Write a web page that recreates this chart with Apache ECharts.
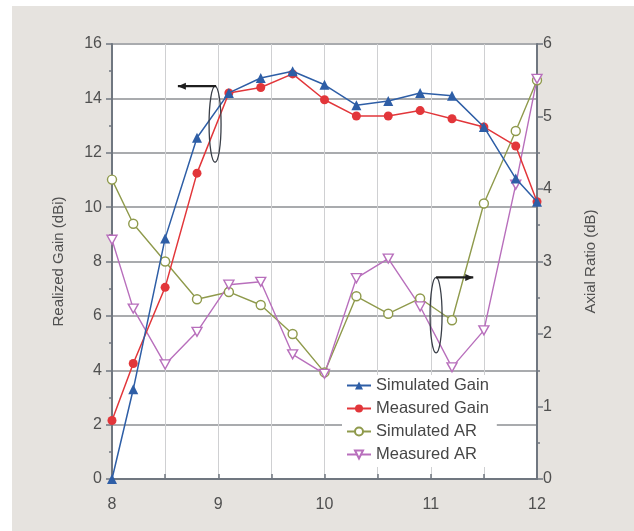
<!DOCTYPE html>
<html>
<head>
<meta charset="utf-8">
<script src="https://cdn.jsdelivr.net/npm/echarts@6/dist/echarts.min.js"></script>
<style>
  html, body { margin: 0; padding: 0; background: #ffffff; }
  #chart { width: 634px; height: 531px; }
</style>
</head>
<body>
<div id="chart"></div>
<script>
// Frequency (GHz)
const freq = [8, 8.2, 8.5, 8.8, 9.1, 9.4, 9.7, 10, 10.3, 10.6, 10.9, 11.2, 11.5, 11.8, 12];

// Realized gain (dBi), left axis
const simGain  = [0.0, 3.3, 8.85, 12.55, 14.2, 14.75, 15.0, 14.5, 13.75, 13.9, 14.2, 14.1, 12.95, 11.05, 10.2];
const measGain = [2.15, 4.25, 7.05, 11.25, 14.2, 14.4, 14.9, 13.95, 13.35, 13.35, 13.55, 13.25, 12.95, 12.25, 10.2];

// Axial ratio (dB), right axis
const simAR  = [4.13, 3.52, 3.0, 2.48, 2.58, 2.4, 2.0, 1.47, 2.52, 2.28, 2.49, 2.19, 3.8, 4.8, 5.5];
const measAR = [3.3, 2.35, 1.58, 2.03, 2.68, 2.72, 1.72, 1.45, 2.77, 3.04, 2.38, 1.54, 2.05, 4.06, 5.52];

// Axis ticks
const xTicks = { min: 8, max: 12, step: 0.5 };
const gainTicks = { min: 0, max: 16, step: 2 };
const arTicks = { min: 0, max: 6, step: 1 };

// Callouts: [x, y] on the gain axis and on the AR axis
const gainCallout = { ellipseTop: [8.97, 14.45], ellipseBottom: [8.97, 11.65], arrowFrom: [8.98, 14.45], arrowTo: [8.62, 14.45] };
const arCallout   = { ellipseTop: [11.05, 2.78], ellipseBottom: [11.05, 1.74], arrowFrom: [11.05, 2.78], arrowTo: [11.4, 2.78] };

const pairs = (xs, ys) => xs.map((x, i) => [x, ys[i]]);

const textColor = '#505050';
const font = 'Liberation Sans, Arial, sans-serif';
const blue = '#2e5ea6', red = '#e2363a', olive = '#8f9a4c', purple = '#b86fbc';

const chart = echarts.init(document.getElementById('chart'), null, { renderer: 'canvas' });

const option = {
  backgroundColor: '#ffffff',
  animation: false,
  grid: {
    left: 112, right: 97, top: 44, bottom: 52,
    show: true, backgroundColor: '#ffffff', borderWidth: 0
  },
  xAxis: {
    type: 'value',
    min: xTicks.min, max: xTicks.max, interval: xTicks.step,
    axisLine: { lineStyle: { color: '#707780', width: 2 } },
    axisTick: { inside: true, length: 5, lineStyle: { color: '#707780', width: 1.5 } },
    axisLabel: {
      margin: 18, color: textColor, fontSize: 16, fontFamily: font,
      formatter: v => (Math.abs(v - Math.round(v)) < 1e-6 ? String(Math.round(v)) : '')
    },
    splitLine: { show: true, lineStyle: { color: '#cfd0d2', width: 1 } }
  },
  yAxis: [
    {
      type: 'value', position: 'left',
      min: gainTicks.min, max: gainTicks.max, interval: gainTicks.step,
      name: 'Realized Gain (dBi)', nameLocation: 'middle', nameGap: 46,
      nameTextStyle: { color: textColor, fontSize: 15, fontFamily: font },
      axisLine: { show: true, lineStyle: { color: '#707780', width: 2 } },
      axisTick: { show: true, length: 6, lineStyle: { color: '#707780', width: 1.5 } },
      minorTick: { show: true, splitNumber: 2, length: 3, lineStyle: { color: '#707780', width: 1.5 } },
      axisLabel: { margin: 10, color: textColor, fontSize: 16, fontFamily: font },
      splitLine: { show: true, lineStyle: { color: '#a9abae', width: 2 } }
    },
    {
      type: 'value', position: 'right',
      min: arTicks.min, max: arTicks.max, interval: arTicks.step,
      name: 'Axial Ratio (dB)', nameLocation: 'middle', nameGap: 46,
      nameRotate: 90,
      nameTextStyle: { color: textColor, fontSize: 15, fontFamily: font },
      axisLine: { show: true, lineStyle: { color: '#707780', width: 2 } },
      axisTick: { show: true, length: 6, lineStyle: { color: '#707780', width: 1.5 } },
      minorTick: { show: true, splitNumber: 2, length: 3, lineStyle: { color: '#707780', width: 1.5 } },
      axisLabel: { margin: 6, color: textColor, fontSize: 16, fontFamily: font },
      splitLine: { show: false }
    }
  ],
  legend: {
    orient: 'vertical',
    left: 342, top: 375,
    itemWidth: 24, itemHeight: 10, itemGap: 6,
    backgroundColor: '#ffffff',
    padding: [2, 8, 4, 4],
    textStyle: { color: '#464646', fontSize: 16.5, fontFamily: font },
    data: ['Simulated Gain', 'Measured Gain', 'Simulated AR', 'Measured AR']
  },
  series: [
    {
      name: 'Simulated Gain', type: 'line', yAxisIndex: 0,
      data: pairs(freq, simGain),
      lineStyle: { width: 1.5, color: blue },
      symbol: 'triangle', symbolSize: 10,
      itemStyle: { color: blue }, z: 4
    },
    {
      name: 'Measured Gain', type: 'line', yAxisIndex: 0,
      data: pairs(freq, measGain),
      lineStyle: { width: 1.5, color: red },
      symbol: 'circle', symbolSize: 9,
      itemStyle: { color: red }, z: 3
    },
    {
      name: 'Simulated AR', type: 'line', yAxisIndex: 1,
      data: pairs(freq, simAR),
      lineStyle: { width: 1.4, color: olive },
      symbol: 'circle', symbolSize: 9,
      itemStyle: { color: '#ffffff', borderColor: olive, borderWidth: 1.4 }, z: 2
    },
    {
      name: 'Measured AR', type: 'line', yAxisIndex: 1,
      data: pairs(freq, measAR),
      lineStyle: { width: 1.4, color: purple },
      symbol: 'path://M0,0 L10,0 L5,9 Z', symbolSize: [10, 9],
      itemStyle: { color: '#ffffff', borderColor: purple, borderWidth: 1.4 }, z: 2
    }
  ]
};

chart.setOption(option);

// Framed backdrop and callouts, placed through the axes' own scales
function callout(c, axisIndex, headDir) {
  const top = chart.convertToPixel({ xAxisIndex: 0, yAxisIndex: axisIndex }, c.ellipseTop);
  const bot = chart.convertToPixel({ xAxisIndex: 0, yAxisIndex: axisIndex }, c.ellipseBottom);
  const from = chart.convertToPixel({ xAxisIndex: 0, yAxisIndex: axisIndex }, c.arrowFrom);
  const to = chart.convertToPixel({ xAxisIndex: 0, yAxisIndex: axisIndex }, c.arrowTo);
  const cx = (top[0] + bot[0]) / 2, cy = (top[1] + bot[1]) / 2;
  const ry = Math.abs(bot[1] - top[1]) / 2;
  const head = headDir < 0
    ? [[to[0], to[1]], [to[0] + 8, to[1] - 3.5], [to[0] + 8, to[1] + 3.5]]
    : [[to[0], to[1]], [to[0] - 8, to[1] - 3.5], [to[0] - 8, to[1] + 3.5]];
  return [
    { type: 'ellipse', shape: { cx: cx, cy: cy, rx: 6, ry: ry },
      style: { fill: null, stroke: '#3a3f48', lineWidth: 1.3 }, z: 20 },
    { type: 'line', shape: { x1: from[0], y1: from[1], x2: to[0], y2: to[1] },
      style: { stroke: '#1e1e1e', lineWidth: 2.2 }, z: 20 },
    { type: 'polygon', shape: { points: head }, style: { fill: '#1e1e1e' }, z: 20 }
  ];
}

chart.setOption({
  graphic: [
    { type: 'rect', shape: { x: 12, y: 6, width: 622, height: 525 },
      style: { fill: '#e6e3df' }, z: -10, silent: true }
  ].concat(callout(gainCallout, 0, -1), callout(arCallout, 1, 1))
});
</script>
</body>
</html>
